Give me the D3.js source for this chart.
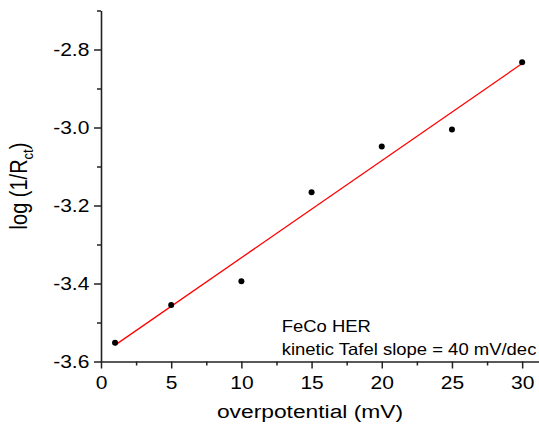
<!DOCTYPE html>
<html>
<head>
    <script src="https://d3js.org/d3.v7.min.js"></script>
    <style>
        body { margin: 0; background: #fff; }
        text { font-family: "Liberation Sans", Arial, sans-serif; fill: #000; }
        .axis path, .axis line { stroke: #222; }
    </style>
</head>
<body>
    <svg width="539" height="430"></svg>
    <script>
        const overpotential = [1, 5, 10, 15, 20, 25, 30];
        const logInvRct = [-3.552, -3.455, -3.394, -3.166, -3.049, -3.005, -2.833];
        const fitX = [1, 30];
        const fitY = [-3.558, -2.836];
        const xTicks = [0, 5, 10, 15, 20, 25, 30];
        const xMinor = [2.5, 7.5, 12.5, 17.5, 22.5, 27.5];
        const yTicks = [-3.6, -3.4, -3.2, -3.0, -2.8];
        const yMinor = [-3.5, -3.3, -3.1, -2.9, -2.7];
        const notes = ["FeCo HER", "kinetic Tafel slope = 40 mV/dec"];

        const svg = d3.select("svg");
        const sx = 1.2; // the picture is a bit wider than tall

        const x = d3.scaleLinear().domain([0, 31.2]).range([101, 539]);
        const y = d3.scaleLinear().domain([-3.6, -2.7]).range([361.5, 10.5]);

        // minor ticks first
        svg.append("g").attr("class", "axis")
            .attr("transform", `translate(0,${y(-3.6)})`)
            .call(d3.axisBottom(x).tickValues(xMinor).tickSize(4).tickFormat(""))
            .call(g => g.select(".domain").remove())
            .selectAll("line").attr("stroke-width", 1.5);
        svg.append("g").attr("class", "axis")
            .attr("transform", `translate(${x(0)},0)`)
            .call(d3.axisLeft(y).tickValues(yMinor).tickSize(4).tickFormat(""))
            .call(g => g.select(".domain").remove())
            .selectAll("line").attr("stroke-width", 1.5);

        const gx = svg.append("g").attr("class", "axis")
            .attr("transform", `translate(0,${y(-3.6)})`)
            .call(d3.axisBottom(x).tickValues(xTicks).tickSize(7).tickSizeOuter(0).tickFormat(d3.format("d")));
        gx.select(".domain").attr("stroke-width", 1.6);
        gx.selectAll("line").attr("stroke-width", 1.5);
        gx.selectAll("text")
            .attr("y", 0).attr("dy", "0.71em")
            .attr("font-size", 17.5)
            .attr("transform", `translate(0,15) scale(${sx},1)`);

        const gy = svg.append("g").attr("class", "axis")
            .attr("transform", `translate(${x(0)},0)`)
            .call(d3.axisLeft(y).tickValues(yTicks).tickSize(7).tickSizeOuter(0).tickFormat(d3.format(".1f")));
        gy.select(".domain").attr("stroke-width", 1.6);
        gy.selectAll("line").attr("stroke-width", 1.5);
        gy.selectAll("text")
            .attr("x", 0)
            .attr("font-size", 17.5)
            .text(d => d3.format(".1f")(d).replace("−", "-"))
            .attr("transform", `translate(-11.7,0) scale(${sx},1)`);

        // fitted line
        svg.append("path")
            .datum(d3.zip(fitX, fitY))
            .attr("fill", "none")
            .attr("stroke", "#ff0000")
            .attr("stroke-width", 1.3)
            .attr("d", d3.line().x(d => x(d[0])).y(d => y(d[1])));

        svg.selectAll(".pt")
            .data(d3.zip(overpotential, logInvRct))
            .enter().append("circle")
            .attr("class", "pt")
            .attr("cx", d => x(d[0]))
            .attr("cy", d => y(d[1]))
            .attr("r", 3)
            .attr("fill", "#000");

        // axis titles
        svg.append("text")
            .attr("text-anchor", "middle")
            .attr("font-size", 19)
            .attr("transform", `translate(310,418) scale(${sx},1)`)
            .text("overpotential (mV)");

        const yl = svg.append("text")
            .attr("text-anchor", "middle")
            .attr("font-size", 20)
            .attr("transform", "translate(27,186) rotate(-90) scale(1,1.15)");
        yl.append("tspan").text("log (1/R");
        yl.append("tspan").attr("font-size", 13).attr("dy", 5).text("ct");
        yl.append("tspan").attr("dy", -5).text(")");

        svg.selectAll(".note")
            .data(notes)
            .enter().append("text")
            .attr("class", "note")
            .attr("font-size", 16.5)
            .attr("transform", (d, i) => `translate(281.7,${332.3 + i * 22.7}) scale(1.12,1)`)
            .text(d => d);
    </script>
</body>
</html>
